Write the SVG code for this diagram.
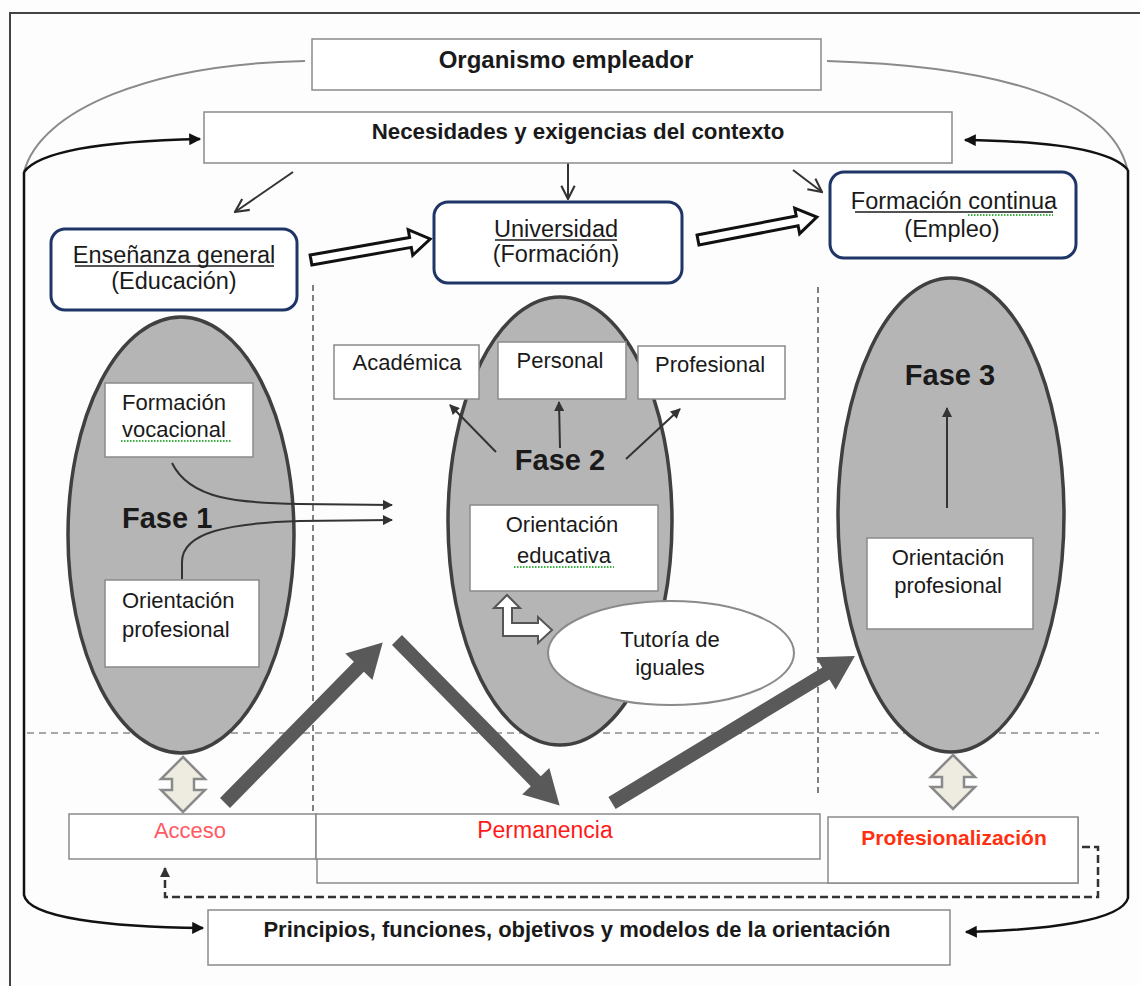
<svg xmlns="http://www.w3.org/2000/svg" width="1140" height="986" viewBox="0 0 1140 986">
  <style>
    text { font-family: "Liberation Sans", Arial, sans-serif; fill: #1a1a1a; }
    .reg { font-size: 22px; }
    .lvl { font-size: 23.5px; }
    .bold { font-size: 22px; font-weight: bold; }
    .fase { font-size: 29px; font-weight: bold; }
    .mid { text-anchor: middle; }
    .box { fill: #fff; stroke: #8a8a8a; stroke-width: 1.5; }
    .rbox { fill: #fff; stroke: #1f3566; stroke-width: 3; }
    .phase { fill: #b5b5b5; stroke: #404040; stroke-width: 3.5; }
    .thin { fill: none; stroke: #333; stroke-width: 2; }
    .frame { fill: none; stroke: #111; stroke-width: 2.5; }
    .arc { fill: none; stroke: #8a8a8a; stroke-width: 2; }
    .hollow { fill: #fff; stroke: #111; stroke-width: 3; stroke-linejoin: miter; }
    .big { fill: #595959; }
    .dbl { fill: #eeece1; stroke: #8a8a8a; stroke-width: 2.5; stroke-linejoin: miter; }
    .sep { stroke: #555; stroke-width: 1.5; stroke-dasharray: 6 4; fill: none; }
    .hsep { stroke: #8a8a8a; stroke-width: 1.5; stroke-dasharray: 7 5; fill: none; }
    .uline { stroke: #1a1a1a; stroke-width: 1.5; }
    .spell { stroke: #3cb043; stroke-width: 2; stroke-dasharray: 1.5 1.5; }
  </style>
  <defs>
    <marker id="headFill" viewBox="0 0 10 10" refX="9" refY="5" markerWidth="14" markerHeight="12" markerUnits="userSpaceOnUse" orient="auto">
      <path d="M0,0 L10,5 L0,10 Z" fill="#111"/>
    </marker>
    <marker id="headSmall" viewBox="0 0 10 10" refX="9" refY="5" markerWidth="11" markerHeight="10" markerUnits="userSpaceOnUse" orient="auto">
      <path d="M0,0 L10,5 L0,10 Z" fill="#333"/>
    </marker>
    <marker id="headOpen" viewBox="0 0 12 12" refX="11" refY="6" markerWidth="16" markerHeight="16" markerUnits="userSpaceOnUse" orient="auto">
      <path d="M1,1 L11,6 L1,11" fill="none" stroke="#333" stroke-width="1.6"/>
    </marker>
  </defs>

  <!-- page -->
  <rect x="0" y="0" width="1140" height="986" fill="#fdfdfd"/>
  <rect x="10" y="13" width="1150" height="1000" fill="none" stroke="#444" stroke-width="2"/>

  <!-- column separators -->
  <g id="separators">
    <line class="sep" x1="313" y1="285" x2="313" y2="814"/>
    <line class="sep" x1="818" y1="287" x2="818" y2="797"/>
    <line class="hsep" x1="27" y1="733" x2="1099" y2="733"/>
  </g>

  <!-- phase ellipses -->
  <g id="fase1">
    <ellipse class="phase" cx="181" cy="535" rx="113" ry="218"/>
    <text class="fase" x="122" y="528">Fase 1</text>
  </g>
  <g id="fase2">
    <ellipse class="phase" cx="560" cy="521" rx="112" ry="224"/>
    <text class="fase mid" x="560" y="470">Fase 2</text>
  </g>
  <g id="fase3">
    <ellipse class="phase" cx="951" cy="515" rx="113" ry="237"/>
    <text class="fase mid" x="950" y="385">Fase 3</text>
  </g>

  <!-- connectors -->
  <g id="connectors">
    <!-- outer loop from the employer -->
    <path class="arc" d="M305 61 C150 64, 40 110, 24 172"/>
    <path class="arc" d="M827 61 C1000 66, 1110 100, 1127 168"/>
    <path class="frame" d="M24 172 C40 150, 110 141, 200 139" marker-end="url(#headFill)"/>
    <path class="frame" d="M1128 170 C1110 148, 1040 141, 965 140" marker-end="url(#headFill)"/>
    <path class="frame" d="M24 172 L24 895 C28 918, 110 927, 203 928" marker-end="url(#headFill)"/>
    <path class="frame" d="M1128 170 L1128 898 C1122 920, 1050 930, 966 932" marker-end="url(#headFill)"/>

    <!-- context arrows -->
    <line class="thin" x1="293" y1="172" x2="235" y2="212" marker-end="url(#headOpen)"/>
    <line class="thin" x1="568" y1="163" x2="568" y2="199" marker-end="url(#headOpen)"/>
    <line class="thin" x1="793" y1="170" x2="822" y2="192" marker-end="url(#headOpen)"/>

    <!-- hollow arrows between levels -->
    <polygon class="hollow" transform="translate(311 260) rotate(-10)" points="0,-5 101,-5 101,-13 121,0 101,13 101,5 0,5"/>
    <polygon class="hollow" transform="translate(698 240) rotate(-10.9)" points="0,-5 101,-5 101,-13 121,0 101,13 101,5 0,5"/>

    <!-- phase 1 to phase 2 -->
    <path class="thin" d="M172 463 C190 500, 240 503, 300 504 L392 505" marker-end="url(#headSmall)"/>
    <path class="thin" d="M182 579 L182 562 C182 532, 230 523, 300 521 L392 520" marker-end="url(#headSmall)"/>

    <!-- phase 2 dimensions -->
    <line class="thin" x1="496" y1="452" x2="450" y2="405" marker-end="url(#headSmall)"/>
    <line class="thin" x1="560" y1="448" x2="559" y2="402" marker-end="url(#headSmall)"/>
    <line class="thin" x1="626" y1="459" x2="680" y2="409" marker-end="url(#headSmall)"/>

    <!-- phase 3 -->
    <line class="thin" x1="947" y1="508" x2="947" y2="408" marker-end="url(#headSmall)"/>

    <!-- bent double arrow between tutoring and guidance -->
    <polygon fill="#fff" stroke="#555" stroke-width="2" points="507,595 520,608 512,608 512,623 538,623 538,617 552,630 538,643 538,636 503,636 503,608 494,608"/>

    <!-- trajectory arrows -->
    <polygon class="big" transform="translate(225 803) rotate(-45.5)" points="0,-7 191,-7 191,-19 225,0 191,19 191,7 0,7"/>
    <polygon class="big" transform="translate(397 640) rotate(45.5)" points="0,-7 198,-7 198,-19 232,0 198,19 198,7 0,7"/>
    <polygon class="big" transform="translate(612 803) rotate(-31.2)" points="0,-7 250,-7 250,-19 284,0 250,19 250,7 0,7"/>

    <!-- phase/stage links -->
    <polygon class="dbl" points="183,757 205,779 194,779 194,790 205,790 183,812 161,790 172,790 172,779 161,779"/>
    <polygon class="dbl" points="953,755 975,777 964,777 964,787 975,787 953,809 931,787 942,787 942,777 931,777"/>

    <!-- feedback from professionalisation to access -->
    <path d="M1082 847 L1098 847 L1098 897 L165 897 L165 868" fill="none" stroke="#333" stroke-width="2.5" stroke-dasharray="8 4" marker-end="url(#headSmall)"/>
  </g>

  <!-- top level -->
  <g id="organismo">
    <rect class="box" x="312" y="39" width="509" height="51"/>
    <text class="mid" x="566" y="68" style="font-size:24px;font-weight:bold">Organismo empleador</text>
  </g>
  <g id="necesidades">
    <rect class="box" x="204" y="112" width="748" height="51"/>
    <text class="mid" x="578" y="139" style="font-size:22.3px;font-weight:bold">Necesidades y exigencias del contexto</text>
  </g>
  <g id="ensenanza">
    <rect class="rbox" x="51" y="229" width="246" height="81" rx="14"/>
    <text class="lvl mid" x="174" y="263">Enseñanza general</text>
    <line class="uline" x1="75" y1="266" x2="274" y2="266"/>
    <text class="lvl mid" x="174" y="289">(Educación)</text>
  </g>
  <g id="universidad">
    <rect class="rbox" x="434" y="202" width="248" height="81" rx="14"/>
    <text class="lvl mid" x="556" y="237">Universidad</text>
    <line class="uline" x1="495" y1="240" x2="617" y2="240"/>
    <text class="lvl mid" x="556" y="262">(Formación)</text>
  </g>
  <g id="formacion-continua">
    <rect class="rbox" x="830" y="172" width="246" height="86" rx="14"/>
    <text class="lvl mid" x="954" y="209">Formación continua</text>
    <line class="uline" x1="855" y1="212" x2="1053" y2="212"/>
    <line class="spell" x1="968" y1="215" x2="1053" y2="215"/>
    <text class="lvl mid" x="952" y="237">(Empleo)</text>
  </g>

  <!-- phase 1 contents -->
  <g id="formacion-vocacional">
    <rect class="box" x="105" y="383" width="148" height="74"/>
    <text class="reg" x="122" y="410">Formación</text>
    <text class="reg" x="122" y="437">vocacional</text>
    <line class="spell" x1="121" y1="441" x2="231" y2="441"/>
  </g>
  <g id="orientacion-profesional-1">
    <rect class="box" x="105" y="580" width="154" height="87"/>
    <text class="reg" x="122" y="608">Orientación</text>
    <text class="reg" x="122" y="637">profesional</text>
  </g>

  <!-- phase 2 contents -->
  <g id="academica">
    <rect class="box" x="334" y="345" width="145" height="54"/>
    <text class="reg mid" x="407" y="370">Académica</text>
  </g>
  <g id="personal">
    <rect class="box" x="498" y="342" width="128" height="57"/>
    <text class="reg mid" x="560" y="368">Personal</text>
  </g>
  <g id="profesional">
    <rect class="box" x="638" y="346" width="147" height="53"/>
    <text class="reg mid" x="710" y="372">Profesional</text>
  </g>
  <g id="orientacion-educativa">
    <rect class="box" x="470" y="505" width="188" height="86"/>
    <text class="reg mid" x="562" y="532">Orientación</text>
    <text class="reg mid" x="564" y="563">educativa</text>
    <line class="spell" x1="514" y1="567" x2="614" y2="567"/>
  </g>
  <g id="tutoria">
    <ellipse cx="671" cy="653" rx="123" ry="52" fill="#fff" stroke="#8a8a8a" stroke-width="2"/>
    <text class="reg mid" x="670" y="647">Tutoría de</text>
    <text class="reg mid" x="670" y="675">iguales</text>
  </g>

  <!-- phase 3 contents -->
  <g id="orientacion-profesional-3">
    <rect class="box" x="867" y="538" width="166" height="91"/>
    <text class="reg mid" x="948" y="565">Orientación</text>
    <text class="reg mid" x="948" y="593">profesional</text>
  </g>

  <!-- stages -->
  <g id="etapas">
    <path d="M317 859 L317 883 L1078 883 L1078 817" fill="none" stroke="#8a8a8a" stroke-width="1.5"/>
    <rect class="box" x="828" y="817" width="250" height="66"/>
    <text class="mid" x="954" y="845" style="font-size:21px;font-weight:bold;fill:#ff3010">Profesionalización</text>
  </g>
  <g id="acceso">
    <rect class="box" x="69" y="814" width="247" height="45"/>
    <text class="reg mid" x="190" y="838" style="fill:#ff5a64">Acceso</text>
  </g>
  <g id="permanencia">
    <rect class="box" x="316" y="814" width="504" height="45"/>
    <text class="mid" x="545" y="838" style="font-size:23px;fill:#ff1a1a">Permanencia</text>
  </g>

  <!-- guidance foundations -->
  <g id="principios">
    <rect class="box" x="208" y="910" width="742" height="55"/>
    <text class="bold mid" x="577" y="937">Principios, funciones, objetivos y modelos de la orientación</text>
  </g>
</svg>
